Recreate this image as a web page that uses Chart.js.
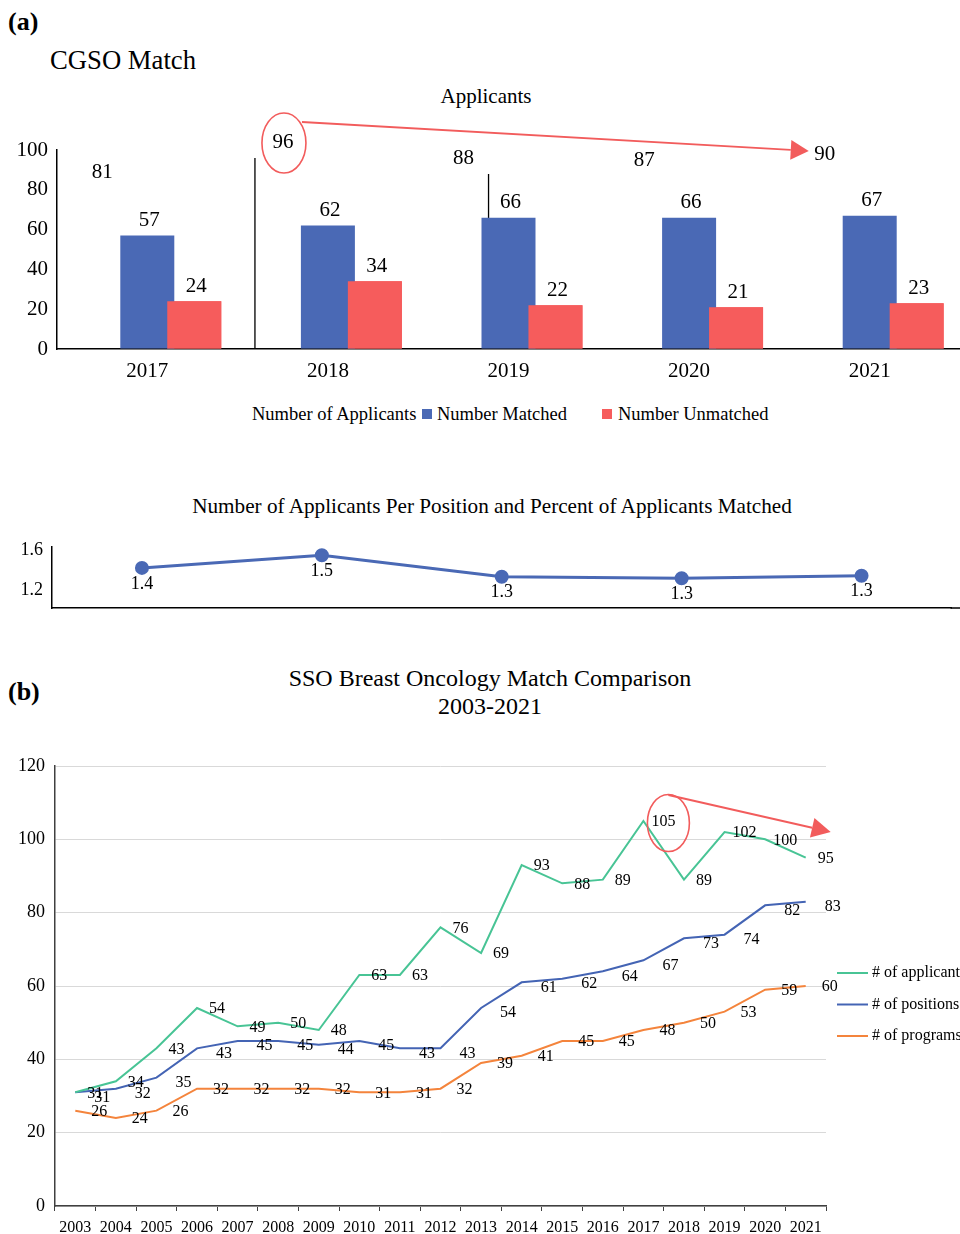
<!DOCTYPE html>
<html>
<head>
<meta charset="utf-8">
<script src="https://cdn.jsdelivr.net/npm/chart.js@4.4.0/dist/chart.umd.min.js"></script>
<style>
  body { margin: 0; width: 960px; height: 1234px; overflow: hidden; background: #fff;
         font-family: "Liberation Serif", "Times New Roman", serif; color: #000; position: relative; }
  .t { position: absolute; white-space: nowrap; line-height: 1; }
  .c { width: 960px; text-align: center; }
  .sq { position: absolute; width: 10px; height: 10px; }
  canvas { position: absolute; left: 0; }
</style>
</head>
<body>
<div class="t" style="left:8px;top:9px;font-size:26px;font-weight:bold">(a)</div>
<div class="t" style="left:50px;top:47px;font-size:26.7px">CGSO Match</div>
<div class="t c" style="left:6px;top:86px;font-size:21px">Applicants</div>

<canvas id="bars" width="960" height="290" style="top:105px"></canvas>

<div class="t" style="left:252px;top:405px;font-size:18.5px">Number of Applicants</div>
<div class="sq" style="left:422px;top:409px;background:#4a69b5"></div>
<div class="t" style="left:437px;top:405px;font-size:18.5px">Number Matched</div>
<div class="sq" style="left:602px;top:409px;background:#f65c5c"></div>
<div class="t" style="left:618px;top:405px;font-size:18.5px">Number Unmatched</div>

<div class="t c" style="left:12px;top:496px;font-size:21.2px">Number of Applicants Per Position and Percent of Applicants Matched</div>
<canvas id="ratio" width="960" height="90" style="top:530px"></canvas>

<div class="t" style="left:8px;top:679px;font-size:26px;font-weight:bold">(b)</div>
<div class="t c" style="left:10px;top:664px;font-size:24px;line-height:28px">SSO Breast Oncology Match Comparison<br>2003-2021</div>
<canvas id="sso" width="960" height="484" style="top:750px"></canvas>

<script>
// ---- data: CGSO match (a) ----
const years = ['2017', '2018', '2019', '2020', '2021'];
const applicants = [81, 96, 88, 87, 90];
const matched = [57, 62, 66, 66, 67];
const unmatched = [24, 34, 22, 21, 23];
const applicantsPerPosition = [1.421, 1.548, 1.333, 1.318, 1.343];
const ratioTicks = [1.2, 1.6];

// ---- data: SSO breast oncology (b) ----
const ssoYears = ['2003', '2004', '2005', '2006', '2007', '2008', '2009', '2010', '2011', '2012',
                  '2013', '2014', '2015', '2016', '2017', '2018', '2019', '2020', '2021'];
const ssoApplicants = [31, 34, 43, 54, 49, 50, 48, 63, 63, 76, 69, 93, 88, 89, 105, 89, 102, 100, 95];
const ssoPositions = [31, 32, 35, 43, 45, 45, 44, 45, 43, 43, 54, 61, 62, 64, 67, 73, 74, 82, 83];
const ssoPrograms = [26, 24, 26, 32, 32, 32, 32, 31, 31, 32, 39, 41, 45, 45, 48, 50, 53, 59, 60];

const SERIF = '"Liberation Serif", "Times New Roman", serif';
Chart.defaults.font.family = SERIF;
Chart.defaults.color = '#000';

const RED = '#f25c5c';

// fixed axis width, no extra room for the end labels
function fixWidth(w) {
    return s => { s.width = w; s.paddingTop = 0; s.paddingBottom = 0; };
}

function drawArrow(ctx, x1, y1, x2, y2, head, half) {
    const a = Math.atan2(y2 - y1, x2 - x1);
    const bx = x2 - head * Math.cos(a), by = y2 - head * Math.sin(a);
    ctx.beginPath();
    ctx.moveTo(x1, y1);
    ctx.lineTo(bx, by);
    ctx.stroke();
    ctx.beginPath();
    ctx.moveTo(x2, y2);
    ctx.lineTo(bx + half * Math.sin(a), by - half * Math.cos(a));
    ctx.lineTo(bx - half * Math.sin(a), by + half * Math.cos(a));
    ctx.closePath();
    ctx.fill();
}

/**
 * Bar chart extras: stray outline edges, unmatched bars on top, labels, circle + arrow
 */
const barExtras = {
    id: 'barExtras',
    beforeDatasetsDraw(chart) {
        const ctx = chart.ctx;
        const y0 = chart.scales.y.getPixelForValue(0);
        const app = chart.getDatasetMeta(0).data;
        ctx.save();
        ctx.strokeStyle = '#000';
        ctx.lineWidth = 1.3;
        // leftover outline of the applicants bars (2018 left edge, 2019 right edge)
        const e1 = app[1], e2 = app[2];
        ctx.beginPath();
        ctx.moveTo(e1.x - e1.width / 2 + 1, e1.y);
        ctx.lineTo(e1.x - e1.width / 2 + 1, y0);
        ctx.moveTo(e2.x + e2.width / 2, e2.y);
        ctx.lineTo(e2.x + e2.width / 2, y0);
        ctx.stroke();
        ctx.restore();
    },
    afterDatasetsDraw(chart) {
        const ctx = chart.ctx;
        // unmatched bars overlap the matched ones
        chart.getDatasetMeta(2).data.forEach(el => el.draw(ctx));

        ctx.save();
        ctx.font = '21px ' + SERIF;
        ctx.fillStyle = '#000';
        ctx.textAlign = 'center';
        ctx.textBaseline = 'middle';
        chart.data.datasets.forEach((ds, i) => {
            chart.getDatasetMeta(i).data.forEach((el, j) => {
                ctx.fillText(ds.data[j], el.x + 2, el.y - 15);
            });
        });

        const app = chart.getDatasetMeta(0).data;
        const cx = app[1].x + 3, cy = app[1].y - 15;
        ctx.strokeStyle = RED;
        ctx.fillStyle = RED;
        ctx.lineWidth = 1.6;
        ctx.beginPath();
        ctx.ellipse(cx, cy, 22, 30, 0, 0, Math.PI * 2);
        ctx.stroke();
        ctx.lineWidth = 2;
        const last = app[app.length - 1];
        drawArrow(ctx, cx + 18, cy - 21, last.x - 14, last.y - 19, 18, 10);
        ctx.restore();
    }
};

new Chart(document.getElementById('bars'), {
    type: 'bar',
    data: {
        labels: years,
        datasets: [
            { label: 'Number of Applicants', data: applicants, backgroundColor: 'rgba(0,0,0,0)' },
            { label: 'Number Matched', data: matched, backgroundColor: '#4a69b5' },
            { label: 'Number Unmatched', data: unmatched, backgroundColor: '#f65c5c' }
        ]
    },
    options: {
        responsive: false,
        animation: false,
        layout: { padding: { top: 45, left: 0, right: 0, bottom: 0 } },
        datasets: { bar: { categoryPercentage: 0.78, barPercentage: 1.15 } },
        plugins: { legend: { display: false }, tooltip: { enabled: false } },
        scales: {
            x: {
                grid: { drawOnChartArea: false, drawTicks: false },
                border: { color: '#000', width: 1.5 },
                ticks: { color: '#000', font: { size: 21 }, padding: 10 },
                afterFit: s => { s.height = 46; }
            },
            y: {
                min: 0,
                max: 100,
                grid: { drawOnChartArea: false, drawTicks: false },
                border: { color: '#000', width: 1.5 },
                ticks: { stepSize: 20, color: '#000', font: { size: 21 }, padding: 9 },
                afterFit: fixWidth(57)
            }
        }
    },
    plugins: [barExtras]
});

/**
 * Applicants per position line
 */
const ratioLabels = {
    id: 'ratioLabels',
    afterDatasetsDraw(chart) {
        const ctx = chart.ctx;
        const ds = chart.data.datasets[0];
        const area = chart.chartArea;
        ctx.save();
        // axis line runs on to the edge of the figure
        ctx.strokeStyle = '#000';
        ctx.lineWidth = 1.5;
        ctx.beginPath();
        ctx.moveTo(area.right - 1, area.bottom);
        ctx.lineTo(chart.width, area.bottom);
        ctx.stroke();

        ctx.font = '18px ' + SERIF;
        ctx.fillStyle = '#000';
        ctx.textAlign = 'center';
        ctx.textBaseline = 'middle';
        chart.getDatasetMeta(0).data.forEach((pt, j) => {
            ctx.fillText(ds.data[j].toFixed(1), pt.x, pt.y + 16);
        });
        ctx.restore();
    }
};

new Chart(document.getElementById('ratio'), {
    type: 'line',
    data: {
        labels: years,
        datasets: [{
            label: 'Applicants per position',
            data: applicantsPerPosition,
            borderColor: '#4a69b5',
            backgroundColor: '#4a69b5',
            borderWidth: 3,
            pointRadius: 5.5,
            tension: 0
        }]
    },
    options: {
        responsive: false,
        animation: false,
        layout: { padding: { top: 17, right: 8, left: 0, bottom: 0 } },
        plugins: { legend: { display: false }, tooltip: { enabled: false } },
        scales: {
            x: {
                offset: true,
                grid: { drawOnChartArea: false, drawTicks: false },
                border: { color: '#000', width: 1.5 },
                ticks: { display: false },
                afterFit: s => { s.height = 12; }
            },
            y: {
                min: 1.02,
                max: 1.63,
                afterBuildTicks: s => { s.ticks = ratioTicks.map(v => ({ value: v })); },
                grid: { drawOnChartArea: false, drawTicks: false },
                border: { color: '#000', width: 1.5 },
                ticks: { color: '#000', font: { size: 18 }, padding: 9, callback: v => v.toFixed(1) },
                afterFit: fixWidth(52)
            }
        }
    },
    plugins: [ratioLabels]
});

/**
 * SSO comparison: value labels, side legend, circle + arrow
 */
const ssoExtras = {
    id: 'ssoExtras',
    afterDatasetsDraw(chart) {
        const ctx = chart.ctx;
        ctx.save();
        ctx.font = '16px ' + SERIF;
        ctx.fillStyle = '#000';
        ctx.textAlign = 'center';
        ctx.textBaseline = 'middle';
        chart.data.datasets.forEach((ds, i) => {
            chart.getDatasetMeta(i).data.forEach((pt, j) => {
                ctx.fillText(ds.data[j], pt.x + ds.labelDx, pt.y + ds.labelDy);
            });
        });

        // legend on the right
        ctx.textAlign = 'left';
        chart.data.datasets.forEach((ds, i) => {
            const y = 223 + i * 31.5;
            ctx.strokeStyle = ds.borderColor;
            ctx.lineWidth = 2;
            ctx.beginPath();
            ctx.moveTo(chart.chartArea.right + 11, y);
            ctx.lineTo(chart.chartArea.right + 42, y);
            ctx.stroke();
            ctx.fillText(ds.label, chart.chartArea.right + 46, y);
        });

        // highlight the 2017 peak of applicants
        const pts = chart.getDatasetMeta(0).data;
        const ds0 = chart.data.datasets[0];
        const peak = pts[14];
        const cx = peak.x + ds0.labelDx + 5, cy = peak.y + 2;
        ctx.strokeStyle = RED;
        ctx.fillStyle = RED;
        ctx.lineWidth = 1.6;
        ctx.beginPath();
        ctx.ellipse(cx, cy, 21, 28.5, 0, 0, Math.PI * 2);
        ctx.stroke();
        ctx.lineWidth = 2;
        const end = pts[pts.length - 1];
        const yTip = chart.scales.y.getPixelForValue(ds0.data[16]);
        drawArrow(ctx, cx, cy - 28, end.x + 25, yTip, 19, 10);
        ctx.restore();
    }
};

new Chart(document.getElementById('sso'), {
    type: 'line',
    data: {
        labels: ssoYears,
        datasets: [
            { label: '# of applicants', data: ssoApplicants, borderColor: '#48c495', labelDx: 20, labelDy: 1 },
            { label: '# of positions', data: ssoPositions, borderColor: '#4464b4', labelDx: 27, labelDy: 5 },
            { label: '# of programs', data: ssoPrograms, borderColor: '#f4843c', labelDx: 24, labelDy: 1 }
        ]
    },
    options: {
        responsive: false,
        animation: false,
        elements: { point: { radius: 0 }, line: { borderWidth: 2, tension: 0 } },
        layout: { padding: { top: 16, right: 134, left: 0, bottom: 0 } },
        plugins: { legend: { display: false }, tooltip: { enabled: false } },
        scales: {
            x: {
                offset: true,
                grid: { offset: true, drawOnChartArea: false, tickLength: 5, color: '#404040', lineWidth: 1 },
                border: { color: '#404040', width: 1.5 },
                ticks: { color: '#000', font: { size: 16 }, padding: 7, autoSkip: false, maxRotation: 0 },
                afterFit: s => { s.height = 28; }
            },
            y: {
                min: 0,
                max: 120,
                grid: { color: '#d9d9d9', drawTicks: false },
                border: { color: '#404040', width: 1.5 },
                ticks: { stepSize: 20, color: '#000', font: { size: 18 }, padding: 10 },
                afterFit: fixWidth(55)
            }
        }
    },
    plugins: [ssoExtras]
});
</script>
</body>
</html>
